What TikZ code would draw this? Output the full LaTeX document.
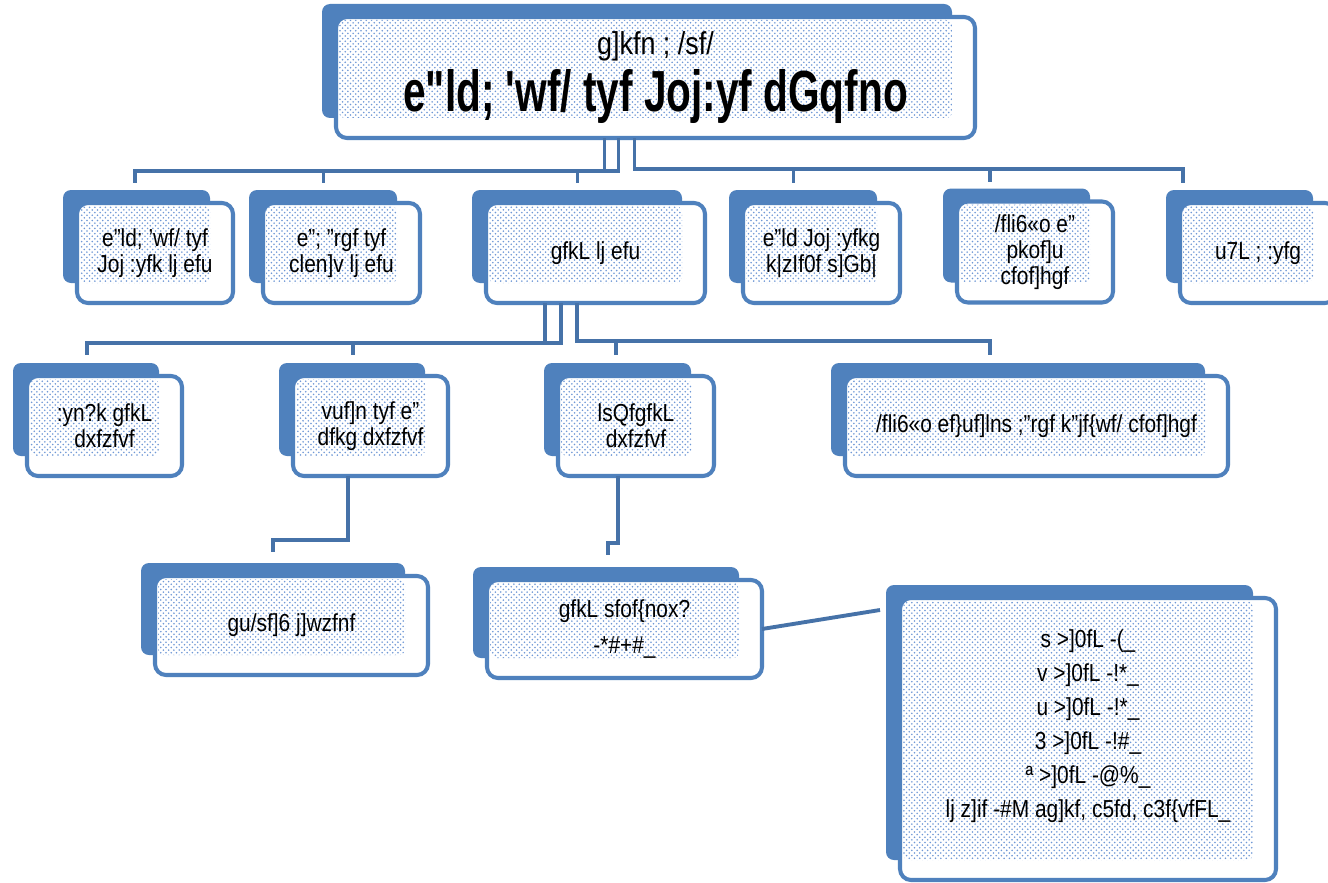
\documentclass[tikz,border=0pt]{standalone}
\usepackage{fontspec}
\setmainfont[FakeStretch=0.85]{Liberation Sans}
\newfontfamily\titlefam[FakeStretch=0.7]{Liberation Sans}
\usetikzlibrary{calc}
\usetikzlibrary{patterns}
\definecolor{boxblue}{HTML}{4F81BD}
\definecolor{connblue}{HTML}{4672A8}
\definecolor{dotblue}{HTML}{6F98D6}
\newcommand{\boxfont}{\fontsize{14}{14.8}\selectfont}
\newcommand{\titlefont}{\titlefam\fontsize{33}{38}\selectfont\bfseries}
\pgfdeclarelayer{background}
\pgfsetlayers{background,main}
\tikzset{
	orgbox/.style={draw=boxblue, line width=2.3pt, rounded corners=0.22cm, inner sep=0pt, outer sep=0pt, align=center, font=\boxfont},
	boxsize/.style 2 args={minimum width=#1*0.02cm, minimum height=#2*0.02cm},
	conn/.style={draw=connblue, line width=2.2pt},
}

\begin{document}
\begin{tikzpicture}[x=0.02cm, y=-0.02cm]
	\useasboundingbox (0,0) rectangle (1328,882);
	
	\node[orgbox, boxsize={639}{121}] (ministry) at (655.5,77.5) {\fontsize{18}{19}\selectfont g]kfn ; /sf/\\[4pt]\titlefont e"ld; 'wf/ tyf Joj:yf dGqfno};
	
	\node[orgbox, boxsize={156}{100}] (landmgmt) at (155,253) {e"ld; 'wf/ tyf\\Joj :yfk lj efu};
	\node[orgbox, boxsize={157}{100}] (landinfo) at (341.5,253) {e"; "rgf tyf\\clen]v lj efu};
	\node[orgbox, boxsize={219}{100}] (survey) at (595.5,253) {gfkL lj efu};
	\node[orgbox, boxsize={157}{100}] (training) at (821.5,253) {e"ld Joj :yfkg\\k|zIf0f s]Gb|};
	\node[orgbox, boxsize={156}{101}] (landuse) at (1035,252) {/fli6«o e"\\pkof]u\\cfof]hgf};
	\node[orgbox, boxsize={156}{100}] (guthi) at (1258,253) {u7L ; :yfg};
	
	\node[orgbox, boxsize={155}{100}] (topo) at (104.5,426) {:yn?k gfkL\\dxfzfvf};
	\node[orgbox, boxsize={155}{100}] (geodetic) at (370.5,426) {vuf]n tyf e"\\dfkg dxfzfvf};
	\node[orgbox, boxsize={156}{100}] (cadastral) at (636,426) {lsQfgfkL\\dxfzfvf};
	\node[orgbox, boxsize={383}{100}] (ngiip) at (1036.5,426) {/fli6«o ef\}uf]lns ;"rgf k"jf\{wf/ cfof]hgf};
	
	\node[orgbox, boxsize={273}{99}] (observ) at (291.5,625.5) {gu/sf]6 j]wzfnf};
	\node[orgbox, boxsize={275}{98}] (offices) at (624.5,629) {gfkL sfof\{nox?\\[6pt]-*\#+\#\_};
	\node[orgbox, boxsize={376}{282}, font=\fontsize{14}{19.3}\selectfont] (grades) at (1088,739) {s >]0fL -(\_\\v >]0fL -!*\_\\u >]0fL -!*\_\\3 >]0fL -!\#\_\\ª >]0fL -@\%\_\\lj z]if -\#M ag]kf, c5fd, c3f\{vfFL\_\\[-2pt]\mbox{}};
	
	% back tabs, white faces and dotted fill behind every box
	\begin{pgfonlayer}{background}
		\fill[white] (0,0) rectangle (1328,882);
		\foreach \b in {ministry,landmgmt,landinfo,survey,training,landuse,guthi,topo,geodetic,cadastral,ngiip,observ,offices,grades}{
			\fill[boxblue, rounded corners=0.16cm] ($(\b.north west)+(-14,-13)$) rectangle ($(\b.south east)+(-23,-20)$);
			\fill[white, rounded corners=0.22cm] (\b.north west) rectangle (\b.south east);
			\fill[pattern=crosshatch dots, pattern color=dotblue, rounded corners=0.12cm] ($(\b.north west)+(3,3)$) rectangle ($(\b.south east)+(-23,-20)$);
		}
	\end{pgfonlayer}
	
	% ministry to departments
	\draw[conn] ($(ministry.south)+(-51,0)$) -- ++(0,33) -| ($(landmgmt.north)+(-20,-20)$);
	\draw[conn] ($(ministry.south)+(-51,0)$) -- ++(0,33) -| ($(landinfo.north)+(-18,-20)$);
	\draw[conn] ($(ministry.south)+(-37,0)$) -- ++(0,33) -| ($(survey.north)+(-18,-20)$);
	\draw[conn] ($(ministry.south)+(-21,0)$) -- ++(0,31) -| ($(training.north)+(-28,-20)$);
	\draw[conn] ($(ministry.south)+(-21,0)$) -- ++(0,31) -| ($(landuse.north)+(-45,-20)$);
	\draw[conn] ($(ministry.south)+(-21,0)$) -- ++(0,31) -| ($(guthi.north)+(-75,-20)$);
	
	% survey department to its divisions
	\draw[conn] ($(survey.south)+(-50.5,0)$) -- ++(0,40) -| ($(topo.north)+(-17.5,-21)$);
	\draw[conn] ($(survey.south)+(-34.5,0)$) -- ++(0,40) -| ($(geodetic.north)+(-17.5,-21)$);
	\draw[conn] ($(survey.south)+(-18.5,0)$) -- ++(0,38) -| ($(cadastral.north)+(-20,-21)$);
	\draw[conn] ($(survey.south)+(-18.5,0)$) -- ++(0,38) -| ($(ngiip.north)+(-46.5,-21)$);
	
	\draw[conn] ($(geodetic.south)+(-22.5,0)$) -- ++(0,64) -| ($(observ.north)+(-18.5,-24)$);
	\draw[conn] ($(cadastral.south)+(-18,0)$) -- ++(0,67) -| ($(offices.north)+(-16.5,-25)$);
	\draw[conn] (offices.east) -- ($(grades.north west)+(-20,12)$);
\end{tikzpicture}
\end{document}
